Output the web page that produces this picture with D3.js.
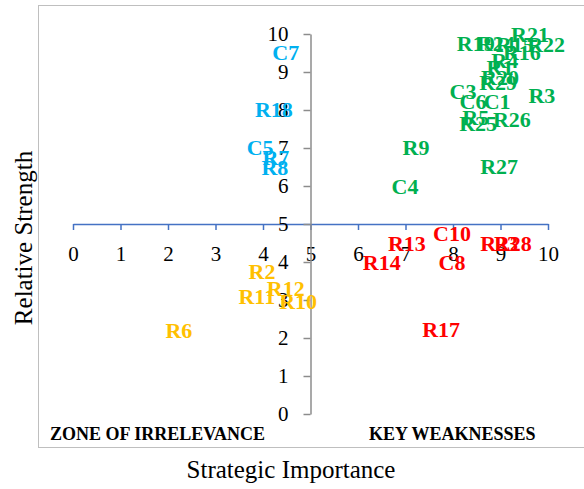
<!DOCTYPE html>
<html>
<head>
<meta charset="utf-8">
<script src="https://cdn.jsdelivr.net/npm/d3@7"></script>
<style>
  body { margin: 0; background: #fff; }
  svg { display: block; }
</style>
</head>
<body>
<svg width="584" height="489"></svg>
<script>
// values: [label, strategic importance, relative strength]
const keyStrengths = [
  ['R19', 8.48, 9.76], ['R24', 8.9, 9.76], ['R15', 9.3, 9.74], ['R22', 9.96, 9.74],
  ['R21', 9.62, 10.0], ['R16', 9.45, 9.53], ['R4', 9.09, 9.32], ['R1', 8.99, 9.13],
  ['R20', 8.99, 8.87], ['R29', 8.95, 8.74], ['C3', 8.21, 8.5], ['C6', 8.42, 8.24],
  ['C1', 8.93, 8.24], ['R3', 9.87, 8.39], ['R5', 8.48, 7.82], ['R25', 8.53, 7.66],
  ['R26', 9.24, 7.76], ['R27', 8.97, 6.53], ['R9', 7.22, 7.03], ['C4', 6.99, 6.0]
];
const overkill = [
  ['C7', 4.48, 9.53], ['R18', 4.23, 8.03], ['C5', 3.94, 7.03], ['R7', 4.27, 6.76], ['R8', 4.25, 6.5]
];
const irrelevance = [
  ['R2', 3.98, 3.76], ['R11', 3.87, 3.1], ['R12', 4.48, 3.32], ['R10', 4.74, 2.97], ['R6', 2.23, 2.21]
];
const keyWeaknesses = [
  ['R13', 7.03, 4.5], ['C10', 7.98, 4.76], ['R14', 6.5, 4.0], ['C8', 7.98, 4.0],
  ['R23', 8.97, 4.5], ['R28', 9.26, 4.5], ['R17', 7.75, 2.24]
];
const importanceTicks = [0, 1, 2, 3, 4, 5, 6, 7, 8, 9, 10];
const strengthTicks = [0, 1, 2, 3, 4, 5, 6, 7, 8, 9, 10];
const quadrantNames = ['ZONE OF IRRELEVANCE', 'KEY WEAKNESSES'];

const svg = d3.select('svg');
const width = +svg.attr('width');
const height = +svg.attr('height');
const font = '"Liberation Serif", "Times New Roman", serif';

const series = [
  {data: keyStrengths, color: '#00B050'},
  {data: overkill, color: '#00B0F0'},
  {data: irrelevance, color: '#FFC000'},
  {data: keyWeaknesses, color: '#FF0000'}
];

const xScale = d3.scaleLinear().domain([0, 10]).range([73, 548]);
const yScale = d3.scaleLinear().domain([0, 10]).range([414, 34]);

// chart area frame
svg.append('rect')
  .attr('x', 38.5).attr('y', 5.5)
  .attr('width', width).attr('height', 442)
  .attr('fill', 'none').attr('stroke', '#bfbfbf');

// horizontal axis (crosses at strength 5)
const xAxis = d3.axisBottom(xScale)
  .tickValues(importanceTicks)
  .tickSizeInner(6).tickSizeOuter(0).tickPadding(16);
const gx = svg.append('g')
  .attr('transform', `translate(0,${yScale(5)})`)
  .call(xAxis);
gx.selectAll('path, line').attr('stroke', '#4472C4').attr('stroke-width', 1.5);

// vertical axis (crosses at importance 5)
const yAxis = d3.axisLeft(yScale)
  .tickValues(strengthTicks)
  .tickSizeInner(7).tickSizeOuter(0).tickPadding(15);
const gy = svg.append('g')
  .attr('transform', `translate(${xScale(5)},0)`)
  .call(yAxis);
gy.selectAll('path, line').attr('stroke', '#8c8c8c').attr('stroke-width', 1.5);

svg.selectAll('.tick text')
  .attr('font-family', font).attr('font-size', 21).attr('fill', '#000');

// point labels
series.forEach(s => {
  svg.append('g').selectAll('text')
    .data(s.data)
    .enter().append('text')
      .attr('x', d => xScale(d[1]))
      .attr('y', d => yScale(d[2]))
      .attr('dy', '0.35em')
      .attr('text-anchor', 'middle')
      .attr('font-family', font)
      .attr('font-size', 22)
      .attr('font-weight', 'bold')
      .attr('fill', s.color)
      .text(d => d[0]);
});

// quadrant names
svg.append('text')
  .attr('x', 50).attr('y', 440)
  .attr('font-family', font).attr('font-size', 18).attr('font-weight', 'bold')
  .text(quadrantNames[0]);
svg.append('text')
  .attr('x', 369).attr('y', 440)
  .attr('font-family', font).attr('font-size', 18).attr('font-weight', 'bold')
  .text(quadrantNames[1]);

// axis titles
svg.append('text')
  .attr('x', 291).attr('y', 478)
  .attr('text-anchor', 'middle')
  .attr('font-family', font).attr('font-size', 25)
  .text('Strategic Importance');
svg.append('text')
  .attr('transform', 'translate(32,238) rotate(-90)')
  .attr('text-anchor', 'middle')
  .attr('font-family', font).attr('font-size', 25)
  .text('Relative Strength');
</script>
</body>
</html>
